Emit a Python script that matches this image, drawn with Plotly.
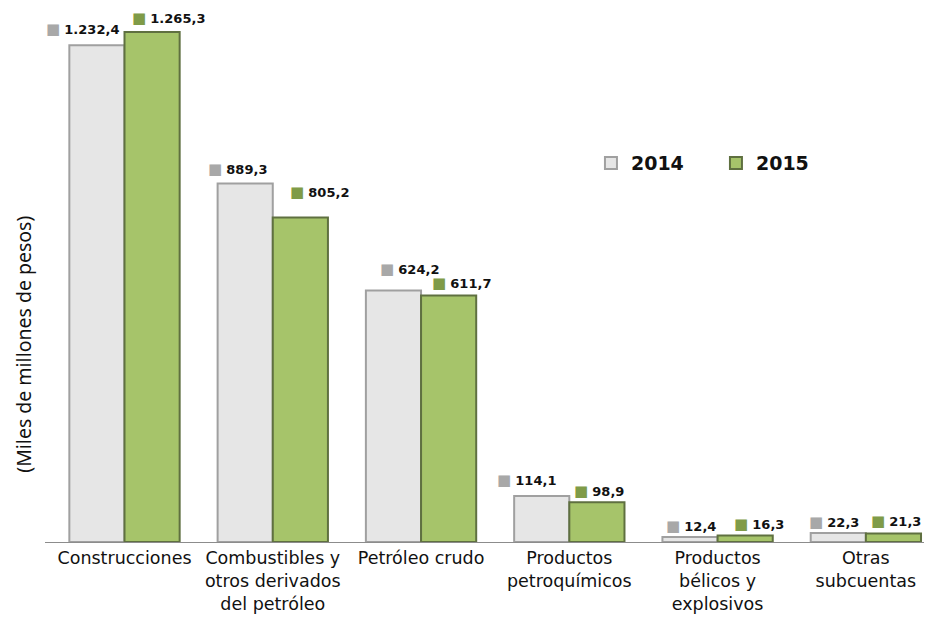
import plotly.graph_objects as go

# --- Data ---
categories = [
    "Construcciones",
    "Combustibles y<br>otros derivados<br>del petróleo",
    "Petróleo crudo",
    "Productos<br>petroquímicos",
    "Productos<br>bélicos y<br>explosivos",
    "Otras<br>subcuentas",
]
values_2014 = [1232.4, 889.3, 624.2, 114.1, 12.4, 22.3]
values_2015 = [1265.3, 805.2, 611.7, 98.9, 16.3, 21.3]

# label placement (pixel offsets from category centre / bar top), as in the original
dx_2014 = [-42, -35, -12, -43, -27, -32]
dy_2014 = [16, 15, 21, 16, 11, 11]
dx_2015 = [44, 47, 40, 30, 41, 30]
dy_2015 = [14, 25, 12, 11, 11, 12]


def es_num(v):
    # 1232.4 -> "1.232,4"
    s = f"{v:,.1f}"
    return s.replace(",", "X").replace(".", ",").replace("X", ".")


FONT = "DejaVu Sans"
GRAY = "#e6e6e6"
GRAY_LINE = "#a0a0a0"
GREEN = "#a6c46a"
GREEN_LINE = "#5f7040"

fig = go.Figure()
fig.add_trace(go.Bar(x=categories, y=values_2014, name="2014",
                     marker=dict(color=GRAY, line=dict(color=GRAY_LINE, width=2))))
fig.add_trace(go.Bar(x=categories, y=values_2015, name="2015",
                     marker=dict(color=GREEN, line=dict(color=GREEN_LINE, width=2))))

# --- Data labels (key square + bold value) ---
for cat, v, dx, dy in zip(categories, values_2014, dx_2014, dy_2014):
    fig.add_annotation(x=cat, y=v, xref="x", yref="y", showarrow=False,
                       text=f"<span style='color:#a8a8a8;font-size:15px'>■</span> <b>{es_num(v)}</b>",
                       xshift=dx, yshift=dy, yanchor="middle", borderpad=0,
                       font=dict(family=FONT, size=13, color="#111"))
for cat, v, dx, dy in zip(categories, values_2015, dx_2015, dy_2015):
    fig.add_annotation(x=cat, y=v, xref="x", yref="y", showarrow=False,
                       text=f"<span style='color:#7f9b48;font-size:15px'>■</span> <b>{es_num(v)}</b>",
                       xshift=dx, yshift=dy, yanchor="middle", borderpad=0,
                       font=dict(family=FONT, size=13, color="#111"))

fig.update_layout(
    width=932, height=621,
    margin=dict(l=37, r=0, t=2, b=87, autoexpand=False),
    paper_bgcolor="white", plot_bgcolor="white",
    barmode="group", bargap=0.256, bargroupgap=0,
    font=dict(family=FONT, size=15, color="#111"),
    showlegend=True,
    legend=dict(orientation="h", x=0.61, y=0.712, xanchor="left", yanchor="middle",
                font=dict(family=FONT, size=19, color="#111", weight="bold"),
                entrywidth=80, entrywidthmode="pixels", bgcolor="rgba(0,0,0,0)"),
    xaxis=dict(showline=True, linecolor="#8c8c8c", linewidth=1, ticks="", automargin=False,
               showgrid=False, tickfont=dict(family=FONT, size=17.5, color="#111")),
    yaxis=dict(range=[0, 1320], showticklabels=False, showgrid=False, zeroline=False,
               showline=False, ticks="", automargin=False),
)

fig.add_annotation(x=-0.025, y=0.372, xref="paper", yref="paper", showarrow=False,
                   text="(Miles de millones de pesos)", textangle=-90,
                   xanchor="center", yanchor="middle",
                   font=dict(family="Noto Sans", size=19.5, color="#111"))

fig.write_html("out.html")
